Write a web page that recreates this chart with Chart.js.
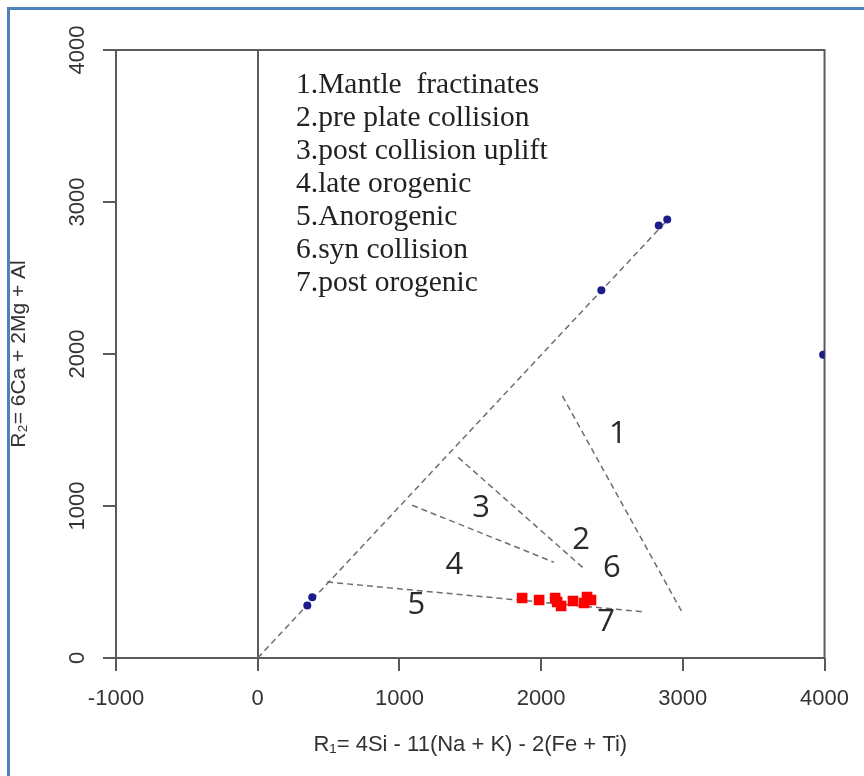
<!DOCTYPE html>
<html lang="en">
<head>
<meta charset="UTF-8">
<title>R1-R2 diagram</title>
<style>
body {
    margin: 0;
    padding: 0;
    background: #fff;
}
#wrap {
    position: relative;
    width: 864px;
    height: 776px;
    overflow: hidden;
}
.frame {
    position: absolute;
    left: 7px;
    top: 7px;
    width: 900px;
    height: 800px;
    border-top: 3px solid #4f81bd;
    border-left: 3px solid #4f81bd;
}
canvas {
    position: absolute;
    left: 0;
    top: 0;
}
</style>
</head>
<body>
<div id="wrap">
    <div class="frame"></div>
    <canvas id="r1r2Chart" width="864" height="776"></canvas>
</div>

<script src="https://cdn.jsdelivr.net/npm/chart.js"></script>
<script>
// granite samples (R1, R2)
const sampleR1 = [1866, 1986, 2099, 2113, 2141, 2225, 2303, 2352, 2324];
const sampleR2 = [395, 382, 395, 368, 342, 375, 362, 382, 401];

// blue reference points
const refR1 = [350, 385, 2425, 2830, 2890, 3990];
const refR2 = [345, 400, 2420, 2845, 2885, 1995];

// dashed field boundaries: start and end of each segment
const boundaryR1 = [[0, 2895], [2150, 2990], [1415, 2300], [1090, 2090], [490, 2710]];
const boundaryR2 = [[0, 2885], [1725, 310], [1320, 590], [1005, 630], [500, 305]];

// field numbers written inside the diagram
const zoneNumbers = ['1', '2', '3', '4', '5', '6', '7'];
const zoneR1 = [2542, 2282, 1577, 1387, 1120, 2500, 2458];
const zoneR2 = [1474, 776, 987, 612, 349, 592, 237];

const legendLines = [
    '1.Mantle  fractinates',
    '2.pre plate collision',
    '3.post collision uplift',
    '4.late orogenic',
    '5.Anorogenic',
    '6.syn collision',
    '7.post orogenic'
];

const xTicks = [-1000, 0, 1000, 2000, 3000, 4000];
const yTicks = [0, 1000, 2000, 3000, 4000];

const axisGray = '#5a5a5a';

const samples = sampleR1.map((x, i) => ({ x: x, y: sampleR2[i] }));
const refs = refR1.map((x, i) => ({ x: x, y: refR2[i] }));

const boundarySets = boundaryR1.map((xs, i) => ({
    data: [{ x: xs[0], y: boundaryR2[i][0] }, { x: xs[1], y: boundaryR2[i][1] }],
    showLine: true,
    borderColor: '#6e6e6e',
    borderWidth: 1.5,
    borderDash: [6, 4],
    pointRadius: 0
}));

// box around the plot plus the field numbers and key
const diagramText = {
    id: 'diagramText',
    beforeDatasetsDraw(chart) {
        const a = chart.chartArea;
        const ctx = chart.ctx;
        ctx.save();
        ctx.strokeStyle = axisGray;
        ctx.lineWidth = 2;
        ctx.strokeRect(a.left, a.top, a.right - a.left, a.bottom - a.top);
        ctx.restore();
    },
    afterDatasetsDraw(chart) {
        const ctx = chart.ctx;
        const xs = chart.scales.x;
        const ys = chart.scales.y;
        const a = chart.chartArea;
        ctx.save();
        ctx.fillStyle = '#2a2a2a';
        ctx.font = '31px "Open Sans"';
        ctx.textAlign = 'center';
        ctx.textBaseline = 'middle';
        zoneNumbers.forEach((t, i) => {
            ctx.fillText(t, xs.getPixelForValue(zoneR1[i]), ys.getPixelForValue(zoneR2[i]));
        });

        ctx.fillStyle = '#222';
        ctx.font = '29.5px "Liberation Serif"';
        ctx.textAlign = 'left';
        ctx.textBaseline = 'alphabetic';
        legendLines.forEach((t, i) => {
            ctx.fillText(t, a.left + 180, a.top + 43 + i * 33);
        });
        ctx.restore();
    }
};

const plainNumber = (v) => String(v);

new Chart(document.getElementById('r1r2Chart'), {
    type: 'scatter',
    data: {
        datasets: [
            {
                data: samples,
                pointStyle: 'rect',
                pointRadius: 7.5,
                backgroundColor: '#ff0000',
                borderWidth: 0
            },
            {
                data: refs,
                pointRadius: 4,
                backgroundColor: '#1c1c8c',
                borderWidth: 0
            },
            ...boundarySets
        ]
    },
    options: {
        responsive: false,
        animation: false,
        layout: { padding: { top: 50, right: 38, left: 0, bottom: 0 } },
        plugins: {
            legend: { display: false },
            tooltip: { enabled: false }
        },
        scales: {
            x: {
                type: 'linear',
                min: -1000,
                max: 4000,
                afterBuildTicks: (s) => { s.ticks = xTicks.map(v => ({ value: v })); },
                afterFit: (s) => { s.height = 118; },
                border: { display: false },
                grid: {
                    color: (c) => (c.tick && c.tick.value === 0 ? axisGray : 'rgba(0,0,0,0)'),
                    lineWidth: 2,
                    tickColor: axisGray,
                    tickLength: 13
                },
                ticks: {
                    color: '#333',
                    padding: 15,
                    font: { family: '"Liberation Sans", Arial', size: 22 },
                    maxRotation: 0,
                    callback: plainNumber
                },
                title: {
                    display: true,
                    text: 'R\u2081= 4Si - 11(Na + K) - 2(Fe + Ti)',
                    color: '#333',
                    font: { family: '"Liberation Sans", Arial', size: 22 },
                    padding: { top: 0, bottom: 18 }
                }
            },
            y: {
                type: 'linear',
                min: 0,
                max: 4000,
                afterBuildTicks: (s) => { s.ticks = yTicks.map(v => ({ value: v })); },
                afterFit: (s) => { s.width = 116; },
                border: { display: false },
                grid: {
                    drawOnChartArea: false,
                    lineWidth: 2,
                    color: axisGray,
                    tickColor: axisGray,
                    tickLength: 13
                },
                ticks: {
                    color: '#333',
                    padding: 1,
                    minRotation: 90,
                    maxRotation: 90,
                    crossAlign: 'center',
                    font: { family: '"Liberation Sans", Arial', size: 22 },
                    callback: plainNumber
                },
                title: {
                    display: true,
                    text: 'R\u2082= 6Ca + 2Mg + Al',
                    color: '#333',
                    font: { family: '"Liberation Sans", Arial', size: 21 },
                    padding: { top: 7, bottom: 0 }
                }
            }
        }
    },
    plugins: [diagramText]
});
</script>
</body>
</html>
